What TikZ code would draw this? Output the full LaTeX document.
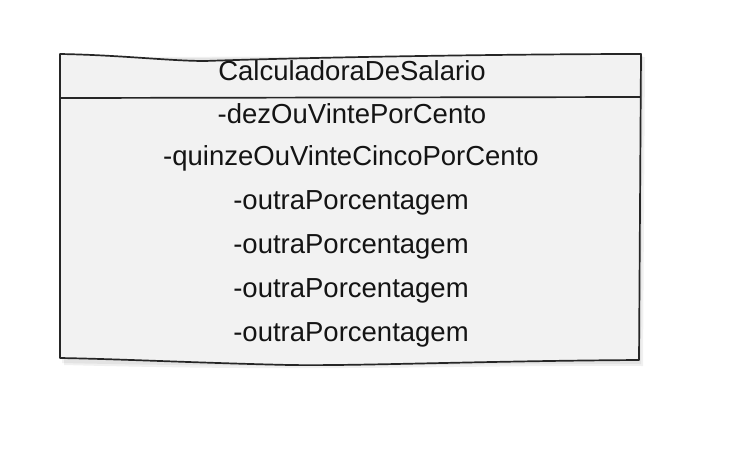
\documentclass[tikz,border=0pt]{standalone}
\usepackage{fontspec}
\setmainfont{Liberation Sans}
\usetikzlibrary{shadows}
\definecolor{boxfill}{HTML}{F2F2F2}
\definecolor{boxline}{HTML}{262626}
\definecolor{txt}{HTML}{141414}
\tikzset{
  member/.style={anchor=base, font=\fontsize{27.5}{32}\selectfont, text=txt, inner sep=0pt},
  sketchline/.style={draw=boxline, line width=1.7pt, line join=round, line cap=round},
}
\begin{document}
\begin{tikzpicture}[x=1pt,y=-1pt]
\useasboundingbox[fill=white] (0,0) rectangle (738,448);
% shadow
\fill[black, opacity=0.06] (64,58) -- (645,57) -- (643,366) .. controls (450,365) and (330,372) .. (64,365) -- cycle;
\fill[black, opacity=0.05] (62,57) -- (643,56) -- (641,364) .. controls (450,363) and (330,369) .. (62,363) -- cycle;
% box
\path[sketchline, fill=boxfill]
  (60,54) .. controls (120,55) and (170,61) .. (205,61)
  .. controls (320,57) and (520,54) .. (641,54)
  -- (639,360)
  .. controls (480,361) and (360,366) .. (290,365)
  .. controls (200,363) and (120,359) .. (60,358)
  -- cycle;
\coordinate (dl) at (60,98);
\coordinate (dr) at (640,97);
\draw[sketchline] (dl) -- (dr);
\node[member] (name) at (352,80) {CalculadoraDeSalario};
\node[member] (a1) at (352,123) {-dezOuVintePorCento};
\node[member] (a2) at (351,165) {-quinzeOuVinteCincoPorCento};
\node[member] (a3) at (351,209) {-outraPorcentagem};
\node[member] (a4) at (351,253) {-outraPorcentagem};
\node[member] (a5) at (351,297) {-outraPorcentagem};
\node[member] (a6) at (351,341) {-outraPorcentagem};
\end{tikzpicture}
\end{document}
